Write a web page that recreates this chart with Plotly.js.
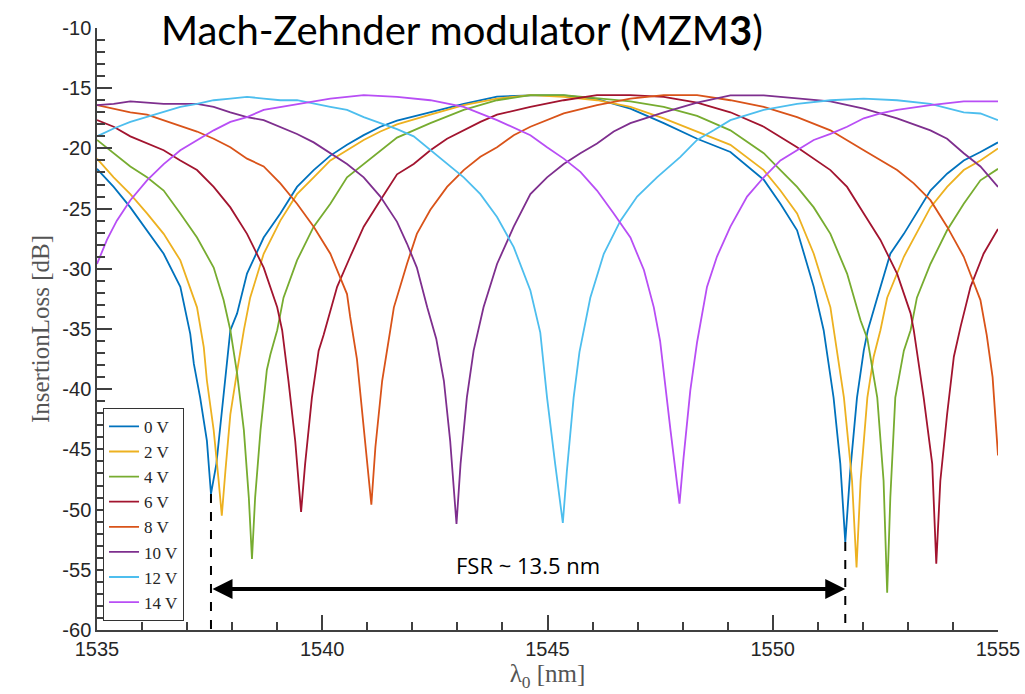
<!DOCTYPE html>
<html>
<head>
<meta charset="utf-8">
<script src="https://cdn.plot.ly/plotly-3.0.1.min.js"></script>
<style>html,body{margin:0;padding:0;background:#fff;}#chart{width:1025px;height:694px;}</style>
</head>
<body>
<div id="chart"></div>
<script>
// ---- data ----
const seriesNames = ['0 V','2 V','4 V','6 V','8 V','10 V','12 V','14 V'];
const seriesColors = ['#0072BD','#EDB120','#77AC30','#A2142F','#D95319','#7E2F8E','#4DBEEE','#B84EF5'];

const wl_0V = [1535.0,1535.37,1535.74,1536.11,1536.48,1536.85,1537.07,1537.15,1537.29,1537.44,1537.53,1537.65,1537.74,1537.85,1537.96,1538.11,1538.33,1538.70,1539.07,1539.44,1539.81,1540.18,1540.55,1540.92,1541.29,1541.66,1542.4,1543.14,1543.88,1544.62,1545.36,1546.1,1546.84,1547.58,1548.32,1549.06,1549.8,1550.17,1550.54,1550.91,1551.13,1551.35,1551.5,1551.61,1551.72,1551.87,1552.02,1552.11,1552.32,1552.61,1552.91,1553.5,1553.87,1554.24,1554.61,1555.0];
const il_0V = [-21.7,-23.2,-24.9,-26.8,-28.75,-31.5,-35.4,-37.9,-40.7,-44.3,-48.7,-46.2,-42.9,-38.7,-35.1,-33.7,-30.4,-27.4,-25.4,-23.2,-21.8,-20.6,-19.7,-18.9,-18.2,-17.7,-17.0,-16.3,-15.7,-15.6,-15.6,-15.9,-16.7,-17.9,-19.2,-20.3,-22.6,-24.6,-26.8,-31.5,-35.1,-40.7,-46.2,-52.7,-46.8,-40.7,-36.8,-35.1,-32.4,-28.75,-27.1,-23.5,-22.1,-21.0,-20.3,-19.5];

const wl_2V = [1535.0,1535.37,1535.74,1536.11,1536.48,1536.85,1537.22,1537.37,1537.44,1537.59,1537.70,1537.77,1537.85,1537.96,1538.11,1538.26,1538.40,1538.70,1539.07,1539.44,1539.81,1540.18,1540.55,1540.92,1541.29,1541.66,1542.4,1543.14,1543.88,1544.62,1545.36,1546.1,1546.84,1547.58,1548.32,1549.06,1549.8,1550.17,1550.54,1550.91,1551.28,1551.46,1551.58,1551.76,1551.86,1551.95,1552.10,1552.24,1552.39,1552.54,1552.91,1553.5,1553.87,1554.24,1554.61,1555.0];
const il_2V = [-20.85,-22.4,-23.8,-25.4,-27.1,-29.3,-33.2,-36.5,-39.3,-43.4,-47.6,-50.5,-46.8,-42.1,-38.5,-35.1,-32.4,-28.75,-26.0,-23.8,-22.4,-21.0,-20.15,-19.3,-18.6,-18.0,-17.2,-16.4,-15.86,-15.58,-15.72,-16.0,-16.55,-17.5,-18.6,-19.7,-21.8,-23.5,-25.4,-28.75,-33.2,-37.5,-40.7,-47.6,-54.8,-47.6,-40.7,-37.3,-35.1,-32.4,-29.0,-24.9,-23.2,-21.8,-21.0,-20.0];

const wl_4V = [1535.0,1535.37,1535.74,1536.11,1536.48,1536.85,1537.22,1537.59,1537.81,1537.96,1538.11,1538.26,1538.37,1538.44,1538.51,1538.63,1538.77,1538.85,1539.0,1539.14,1539.44,1539.81,1540.18,1540.55,1540.92,1541.29,1541.66,1542.4,1543.14,1543.88,1544.62,1545.36,1546.1,1546.84,1547.58,1548.32,1549.06,1549.8,1550.17,1550.54,1550.91,1551.28,1551.65,1551.95,1552.1,1552.32,1552.46,1552.54,1552.61,1552.72,1552.91,1553.06,1553.2,1553.5,1553.87,1554.24,1554.61,1555.0];
const il_4V = [-19.3,-20.4,-21.5,-22.4,-23.5,-25.4,-27.4,-29.9,-32.6,-35.1,-38.7,-43.4,-49.0,-54.1,-49.0,-43.4,-38.4,-37.1,-35.1,-32.4,-29.3,-26.5,-24.6,-22.4,-21.3,-20.15,-19.1,-17.9,-16.8,-16.0,-15.58,-15.58,-15.86,-16.1,-16.55,-17.3,-18.5,-20.4,-21.8,-23.2,-24.9,-27.1,-30.4,-34.3,-35.8,-40.7,-47.6,-56.9,-49.0,-40.7,-36.8,-35.1,-32.4,-29.6,-26.8,-24.6,-22.65,-21.7];

const wl_6V = [1535.0,1535.37,1535.74,1536.11,1536.48,1536.85,1537.22,1537.59,1537.96,1538.33,1538.7,1539.0,1539.11,1539.25,1539.4,1539.53,1539.62,1539.77,1539.92,1540.03,1540.33,1540.62,1540.92,1541.29,1541.66,1542.03,1542.4,1542.77,1543.14,1543.51,1543.88,1544.62,1545.36,1546.1,1546.84,1547.58,1548.32,1549.06,1549.8,1550.54,1551.28,1551.65,1552.02,1552.39,1552.76,1553.06,1553.13,1553.35,1553.54,1553.63,1553.72,1553.87,1554.02,1554.17,1554.39,1554.68,1555.0];
const il_6V = [-17.65,-18.2,-19.0,-19.6,-20.15,-21.0,-21.8,-23.2,-24.9,-27.1,-29.9,-33.2,-35.1,-39.3,-44.3,-50.2,-46.2,-40.7,-36.8,-35.5,-31.5,-29.0,-26.5,-24.3,-22.15,-21.3,-20.15,-19.2,-18.5,-17.8,-17.2,-16.55,-16.0,-15.58,-15.58,-15.72,-16.2,-17.0,-18.2,-19.9,-21.8,-23.2,-25.4,-27.6,-30.4,-33.7,-35.1,-40.7,-46.2,-54.5,-47.6,-42.1,-37.3,-34.8,-31.5,-28.75,-26.7];

const wl_8V = [1535.0,1535.37,1535.74,1536.11,1536.48,1536.85,1537.22,1537.59,1537.96,1538.33,1538.7,1539.07,1539.44,1539.81,1540.18,1540.55,1540.62,1540.77,1540.92,1541.09,1541.18,1541.33,1541.51,1541.59,1541.88,1542.1,1542.4,1542.77,1543.14,1543.51,1543.88,1544.25,1544.62,1545.36,1546.1,1546.84,1547.58,1548.32,1549.06,1549.8,1550.54,1551.28,1552.02,1552.76,1553.13,1553.5,1553.87,1554.24,1554.61,1554.75,1554.88,1554.94,1555.0];
const il_8V = [-16.4,-16.7,-17.0,-17.2,-17.65,-18.1,-18.6,-19.2,-19.9,-20.85,-21.5,-22.9,-24.6,-26.5,-28.75,-32.1,-34.0,-37.5,-43.4,-49.6,-44.8,-39.3,-35.1,-33.2,-29.6,-27.1,-25.1,-23.2,-21.8,-20.7,-19.9,-18.9,-18.2,-17.1,-16.4,-15.86,-15.58,-15.58,-16.0,-16.55,-17.4,-18.5,-20.15,-21.8,-22.9,-24.3,-26.5,-29.0,-32.6,-35.5,-39.0,-42.1,-45.5];

const wl_10V = [1535.0,1535.37,1535.74,1536.48,1537.22,1537.59,1537.96,1538.33,1538.7,1539.07,1539.44,1539.81,1540.18,1540.55,1540.92,1541.29,1541.66,1541.88,1542.1,1542.33,1542.53,1542.7,1542.84,1542.98,1543.07,1543.21,1543.36,1543.58,1543.88,1544.25,1544.62,1544.99,1545.36,1545.73,1546.1,1546.47,1546.84,1547.58,1548.32,1549.06,1549.8,1550.54,1551.28,1552.02,1552.76,1553.5,1553.87,1554.24,1554.61,1555.0];
const il_10V = [-16.4,-16.3,-16.1,-16.3,-16.3,-16.55,-17.0,-17.4,-17.65,-18.2,-18.8,-19.5,-20.4,-21.3,-22.4,-24.0,-26.1,-27.9,-29.9,-33.2,-35.8,-39.3,-44.3,-51.2,-46.2,-40.7,-36.8,-33.2,-29.6,-26.5,-23.8,-22.4,-21.3,-20.4,-19.6,-18.6,-17.9,-17.0,-16.2,-15.6,-15.6,-15.86,-16.1,-16.7,-17.5,-18.5,-19.2,-20.4,-21.5,-23.2];

const wl_12V = [1535.0,1535.37,1535.74,1536.11,1536.48,1536.85,1537.22,1537.59,1537.96,1538.33,1538.7,1539.07,1539.44,1539.81,1540.18,1540.55,1540.92,1541.29,1541.66,1542.03,1542.4,1542.77,1543.14,1543.51,1543.88,1544.25,1544.62,1544.84,1544.99,1545.17,1545.34,1545.43,1545.58,1545.71,1545.95,1546.25,1546.62,1546.99,1547.43,1547.95,1548.32,1548.69,1549.06,1549.8,1550.54,1551.28,1552.02,1552.76,1553.5,1554.24,1554.61,1555.0];
const il_12V = [-19.0,-18.35,-17.8,-17.4,-17.0,-16.55,-16.3,-16.0,-15.86,-15.72,-15.86,-16.0,-16.0,-16.3,-16.55,-16.8,-17.4,-17.9,-18.4,-19.0,-20.15,-21.3,-22.4,-23.8,-25.7,-28.2,-31.8,-35.3,-40.7,-46.2,-51.1,-46.8,-40.7,-36.9,-32.4,-28.75,-26.0,-24.0,-22.4,-20.7,-19.3,-18.5,-17.65,-16.8,-16.3,-16.0,-15.86,-16.0,-16.3,-17.0,-17.1,-17.65];

const wl_14V = [1535.0,1535.22,1535.44,1535.74,1536.11,1536.48,1536.85,1537.22,1537.59,1537.96,1538.33,1538.7,1539.07,1539.44,1540.18,1540.92,1541.66,1542.4,1543.14,1543.88,1544.62,1544.99,1545.36,1545.73,1546.1,1546.47,1546.84,1547.14,1547.36,1547.5,1547.58,1547.73,1547.93,1548.02,1548.17,1548.32,1548.54,1548.76,1549.06,1549.43,1549.8,1550.17,1550.54,1550.91,1551.28,1551.65,1552.02,1552.39,1552.76,1553.5,1554.24,1555.0];
const il_14V = [-29.6,-27.6,-26.0,-24.3,-22.65,-21.3,-20.15,-19.3,-18.5,-17.8,-17.4,-16.8,-16.55,-16.3,-15.86,-15.58,-15.72,-16.0,-16.55,-17.65,-18.9,-19.9,-20.85,-21.95,-23.5,-25.4,-27.4,-30.1,-33.2,-36.0,-38.7,-43.4,-49.5,-45.7,-40.1,-36.1,-31.5,-29.0,-26.5,-24.0,-22.4,-21.0,-20.15,-19.3,-18.8,-18.2,-17.5,-17.1,-16.8,-16.4,-16.1,-16.1];

const xTickVals = [1535,1540,1545,1550,1555];
const yTickVals = [-60,-55,-50,-45,-40,-35,-30,-25,-20,-15,-10];

// FSR annotation values (dips of 0 V trace)
const fsrStart = 1537.53, fsrStartDip = -48.7;
const fsrEnd = 1551.61, fsrEndDip = -52.7;
const fsrArrowLevel = -56.6;
const fsrLabel = 'FSR ~ 13.5 nm';

const wls = [wl_0V, wl_2V, wl_4V, wl_6V, wl_8V, wl_10V, wl_12V, wl_14V];
const ils = [il_0V, il_2V, il_4V, il_6V, il_8V, il_10V, il_12V, il_14V];

const traces = seriesNames.map((n, i) => ({
  type: 'scatter', mode: 'lines', name: n,
  x: wls[i], y: ils[i],
  line: {color: seriesColors[i], width: 1.8}
}));

const axisCommon = {
  showgrid: false, zeroline: false, showline: true,
  linecolor: '#404040', linewidth: 1.5,
  ticks: 'inside', tickcolor: '#404040', tickwidth: 1.5, ticklen: 15,
  tickfont: {family: 'Liberation Sans, Arial, sans-serif', size: 20, color: '#262626'},
  mirror: false
};

const layout = {
  width: 1025, height: 694,
  paper_bgcolor: '#fff', plot_bgcolor: '#fff',
  margin: {l: 97, r: 27, t: 28, b: 64},
  title: {
    text: 'Mach-Zehnder modulator (MZM<b>3</b>)',
    font: {family: 'Lato, Open Sans, sans-serif', size: 40, color: '#000'},
    x: 0.405, xanchor: 'center', xref: 'paper',
    y: 0.955, yanchor: 'middle', yref: 'container'
  },
  xaxis: Object.assign({}, axisCommon, {
    range: [1535, 1555], tickvals: xTickVals,
    ticktext: xTickVals.map(String),
    minor: {ticks: 'inside', dtick: 1, ticklen: 8, tickcolor: '#404040', tickwidth: 1.5},
    title: {text: 'λ<sub>0</sub> [nm]', font: {family: 'Liberation Serif, DejaVu Serif, serif', size: 25, color: '#555'}, standoff: 6}
  }),
  yaxis: Object.assign({}, axisCommon, {
    range: [-60, -10], tickvals: yTickVals,
    ticktext: yTickVals.map(String),
    minor: {ticks: 'inside', dtick: 1, ticklen: 8, tickcolor: '#404040', tickwidth: 1.5},
    title: {text: 'InsertionLoss [dB]', font: {family: 'Liberation Serif, DejaVu Serif, serif', size: 25, color: '#555'}, standoff: 6}
  }),
  showlegend: true,
  legend: {
    x: 0.0067, y: 0.369, xanchor: 'left', yanchor: 'top',
    bgcolor: '#fff', bordercolor: '#333', borderwidth: 1,
    font: {family: 'Liberation Serif, DejaVu Serif, serif', size: 17, color: '#262626'},
    itemwidth: 30
  },
  shapes: [
    {type: 'line', xref: 'x', yref: 'y', x0: fsrStart, x1: fsrStart, y0: fsrStartDip, y1: -60, line: {color: '#000', width: 2, dash: 'dash'}},
    {type: 'line', xref: 'x', yref: 'y', x0: fsrEnd, x1: fsrEnd, y0: fsrEndDip, y1: -60, line: {color: '#000', width: 2, dash: 'dash'}}
  ],
  annotations: [
    {xref: 'x', yref: 'y', axref: 'x', ayref: 'y', x: fsrEnd, y: fsrArrowLevel, ax: fsrStart, ay: fsrArrowLevel,
     text: '', showarrow: true, arrowhead: 2, arrowside: 'end+start', arrowsize: 1, arrowwidth: 4, arrowcolor: '#000', standoff: 0, startstandoff: 0},
    {xref: 'x', yref: 'y', x: (fsrStart + fsrEnd) / 2, y: fsrArrowLevel, yshift: 24, text: fsrLabel, showarrow: false,
     font: {family: 'Open Sans, Noto Sans, sans-serif', size: 22, color: '#000'}}
  ]
};

Plotly.newPlot('chart', traces, layout, {displayModeBar: false, responsive: false});
</script>
</body>
</html>
